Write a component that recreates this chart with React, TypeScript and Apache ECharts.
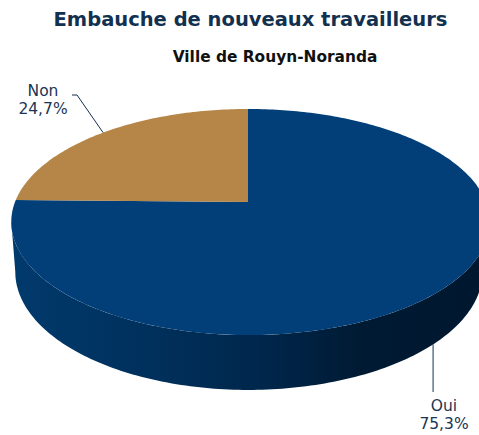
import React, { useEffect, useRef } from "react";
import * as echarts from "echarts";

const categories = ["Oui", "Non"];
const values = [75.3, 24.7];
const titleText = "Embauche de nouveaux travailleurs";
const subtitleText = "Ville de Rouyn-Noranda";

const W = 479, H = 435;
const CX = 248, CY = 202, A_LEFT = 233, A_RIGHT = 238, B = 109.5, K = 0.177;
const TEXT = "#1a3553";
const FONT = "'DejaVu Sans', Verdana, sans-serif";
const TOP_COLORS = ["#023f78", "#b58647"];

const rad = (d: number) => (d * Math.PI) / 180;
const topPt = (deg: number): number[] => {
  const s = Math.sin(rad(deg)), c = Math.cos(rad(deg)), w = 1 + K * c;
  return [CX + ((s > 0 ? A_RIGHT : A_LEFT) * s) / w, CY - (B * c) / w];
};
const basePt = (deg: number): number[] => {
  const p = topPt(deg);
  const sx = p[0] > CX ? 0.97 : 0.983;
  return [CX + (p[0] - CX) * sx, CY + 49 + (p[1] - CY) * 1.044];
};
const arc = (fn: (d: number) => number[], a0: number, a1: number) => {
  const n = Math.max(2, Math.ceil(Math.abs(a1 - a0)));
  const pts: number[][] = [];
  for (let i = 0; i <= n; i++) pts.push(fn(a0 + ((a1 - a0) * i) / n));
  return pts;
};

const total = values.reduce((a, b) => a + b, 0);
const startAngle = (i: number) => (values.slice(0, i).reduce((a, b) => a + b, 0) / total) * 360;
const pct = (v: number) => v.toFixed(1).replace(".", ",") + "%";

const wallFill = new echarts.graphic.LinearGradient(
  11, 0, 479, 0,
  [
    { offset: 0, color: "#003a6c" },
    { offset: 0.3, color: "#00305c" },
    { offset: 0.55, color: "#00264a" },
    { offset: 0.75, color: "#001a33" },
    { offset: 1, color: "#00182f" },
  ],
  true
);

const labelSpots: Record<string, { line: (a: number) => number[][]; x: number; y: number }> = {
  Non: { line: (m) => [topPt(m), [77, 95], [72, 95]], x: 43, y: 100 },
  Oui: { line: (m) => [basePt(m), [basePt(m)[0], 392]], x: 444, y: 415 },
};

const renderItem = (params: any) => {
  const i = params.dataIndex;
  const a0 = startAngle(i);
  const a1 = a0 + (values[i] / total) * 360;
  const mid = (a0 + a1) / 2;
  const children: any[] = [];
  const w0 = Math.max(a0, 100), w1 = Math.min(a1, 260);
  if (w1 > w0) {
    children.push({
      type: "polygon",
      shape: { points: [...arc(topPt, w0, w1), ...arc(basePt, w1, w0)] },
      style: { fill: wallFill },
    });
  }
  children.push({
    type: "polygon",
    shape: { points: [[CX, CY], ...arc(topPt, a0, a1)] },
    style: { fill: TOP_COLORS[i] },
  });
  const spot = labelSpots[categories[i]];
  children.push({
    type: "polyline",
    shape: { points: spot.line(mid) },
    style: { stroke: "#12304f", lineWidth: 1, fill: "none" },
  });
  children.push({
    type: "text",
    x: spot.x,
    y: spot.y,
    style: {
      text: `${categories[i]}\n${pct(values[i])}`,
      fill: TEXT,
      font: `15.5px ${FONT}`,
      lineHeight: 18,
      align: "center",
      verticalAlign: "middle",
    },
  });
  return { type: "group", children };
};

export default function App() {
  const ref = useRef<HTMLDivElement>(null);
  useEffect(() => {
    document.body.style.margin = "0";
    const chart = echarts.init(ref.current!, undefined, { renderer: "svg" });
    chart.setOption({
      animation: false,
      backgroundColor: "#ffffff",
      title: [
        {
          text: titleText,
          left: 245.5,
          top: 4,
          textAlign: "center",
          textStyle: { color: "#12304f", fontFamily: FONT, fontWeight: "bold", fontSize: 19.5 },
        },
        {
          text: subtitleText,
          left: 270,
          top: 44,
          textAlign: "center",
          textStyle: { color: "#111111", fontFamily: FONT, fontWeight: "bold", fontSize: 15.4 },
        },
      ],
      series: [
        {
          type: "custom",
          coordinateSystem: "none",
          silent: true,
          renderItem,
          data: categories.map((name, i) => ({ name, value: values[i] })),
        },
      ],
    });
    return () => chart.dispose();
  }, []);
  return <div ref={ref} style={{ width: W, height: H }} />;
}
